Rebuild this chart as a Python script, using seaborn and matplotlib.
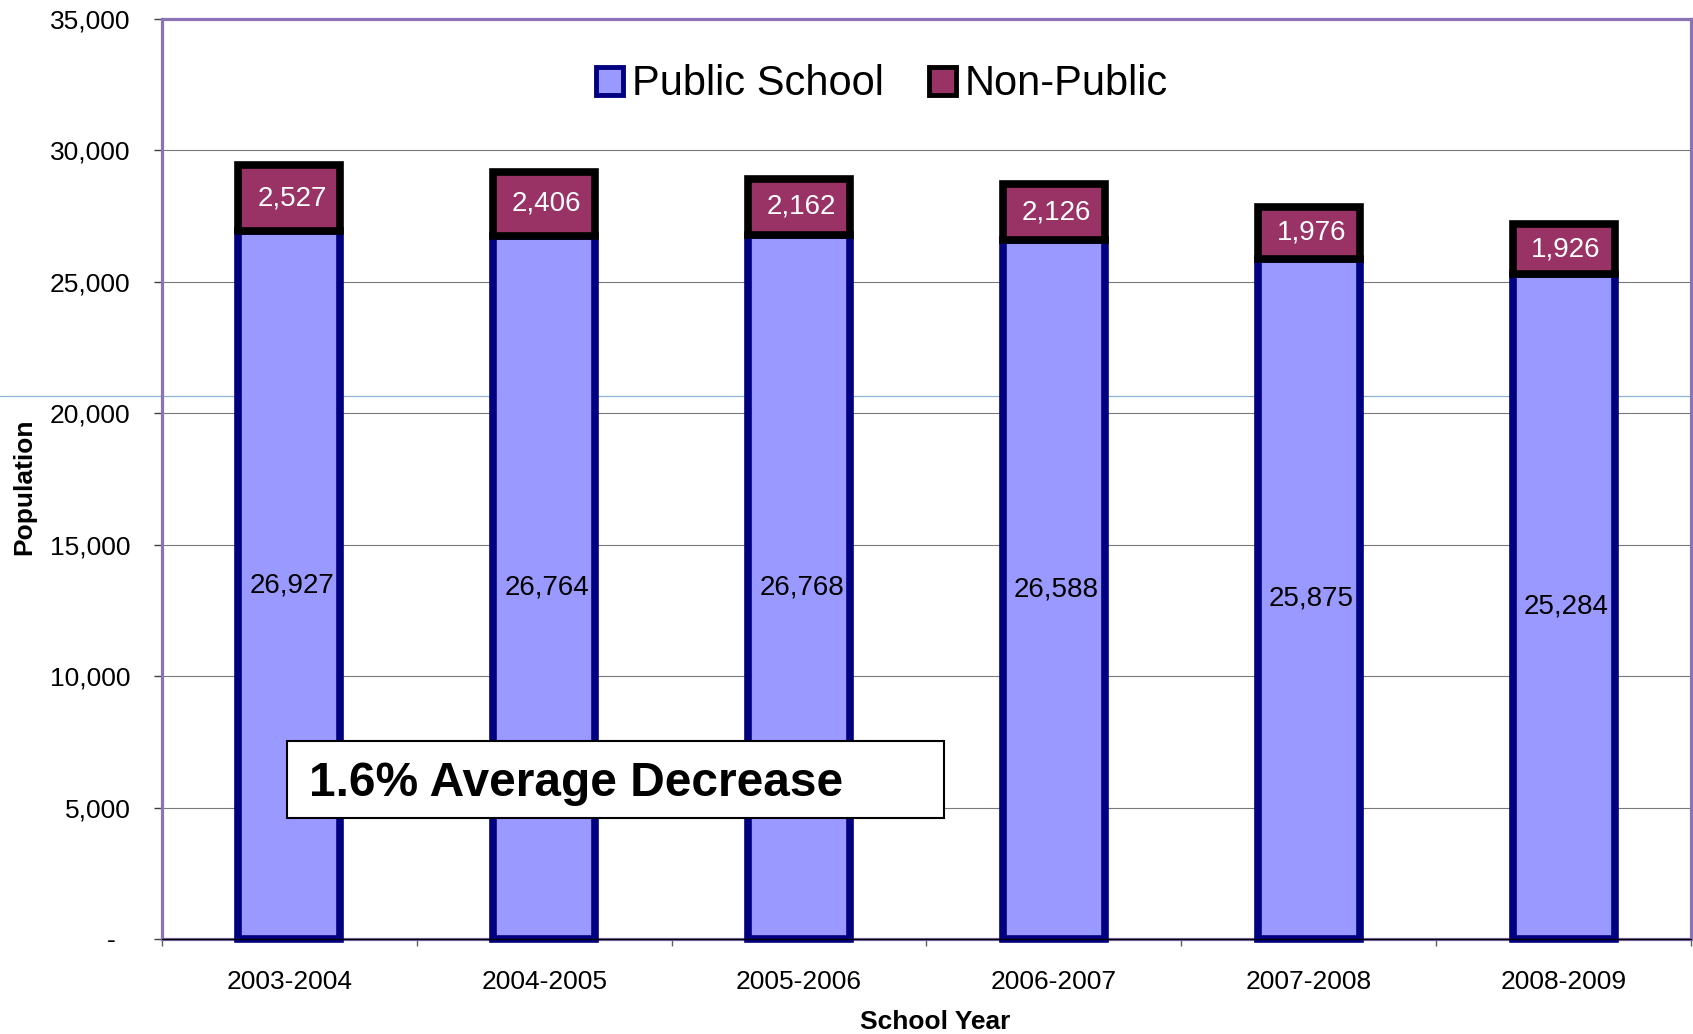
import matplotlib
matplotlib.use("Agg")
import matplotlib.pyplot as plt
import matplotlib.transforms as mtransforms
from matplotlib.patches import Patch, Rectangle
import seaborn as sns
import pandas as pd

# ---- data ----
years = ["2003-2004", "2004-2005", "2005-2006", "2006-2007", "2007-2008", "2008-2009"]
public = [26927, 26764, 26768, 26588, 25875, 25284]
non_public = [2527, 2406, 2162, 2126, 1976, 1926]
series_names = ["Public School", "Non-Public"]
y_ticks = [0, 5000, 10000, 15000, 20000, 25000, 30000, 35000]
y_tick_labels = ["-  ", "5,000", "10,000", "15,000", "20,000", "25,000", "30,000", "35,000"]
note_text = "1.6% Average Decrease"
x_title = "School Year"
y_title = "Population"
artifact_line_y = 20650

# ---- style ----
sns.set_theme(style="white")
plt.rcParams['font.family'] = ['Liberation Sans', 'DejaVu Sans']
plt.rcParams['text.color'] = 'black'
plt.rcParams['axes.labelcolor'] = 'black'
plt.rcParams['xtick.color'] = 'black'
plt.rcParams['ytick.color'] = 'black'

PUB_FACE = "#9999FF"
PUB_EDGE = "#000080"
NP_FACE = "#993366"
NP_EDGE = "#000000"
PURPLE = "#8A74B6"
BAR_W = 0.4
EDGE_LW = 5.5

fig = plt.figure(figsize=(16.93, 10.34), dpi=100)
ax = fig.add_axes([0.0957, 0.0919, 0.9031, 0.8897])

df = pd.DataFrame({"year": years, "public": public, "non_public": non_public})

sns.barplot(data=df, x="year", y="public", color=PUB_FACE, saturation=1,
            width=BAR_W, edgecolor=PUB_EDGE, linewidth=EDGE_LW, ax=ax, zorder=3)
ax.bar(range(len(years)), df["non_public"], bottom=df["public"], width=BAR_W,
       color=NP_FACE, edgecolor=NP_EDGE, linewidth=EDGE_LW, zorder=3)
for p in ax.patches:
    p.set_clip_on(False)

# value labels
for i, (p, n) in enumerate(zip(public, non_public)):
    ax.text(i + 0.01, p / 2, f"{p:,}", ha="center", va="center", fontsize=20,
            color="black", zorder=5)
    ax.text(i + 0.01, p + n / 2, f"{n:,}", ha="center", va="center", fontsize=20,
            color="white", zorder=5)

# faint blue artifact line across the figure
trans = mtransforms.blended_transform_factory(fig.transFigure, ax.transData)
ax.plot([0, 1], [artifact_line_y, artifact_line_y], transform=trans,
        color="#8DB4D6", lw=0.9, clip_on=False, zorder=1.5)

# axes
ax.set_xlim(-0.5, len(years) - 0.5)
ax.set_ylim(0, 35000)
ax.set_xlabel("")
ax.set_ylabel("")
ax.set_yticks(y_ticks)
ax.set_yticklabels(y_tick_labels)
ax.tick_params(axis="y", left=True, length=5.8, width=1, color="#404040",
               pad=17, labelsize=19, labelcolor="black")
ax.set_xticks(range(len(years)))
ax.set_xticklabels(years)
ax.set_xticks([i - 0.5 for i in range(len(years) + 1)], minor=True)
ax.tick_params(axis="x", which="major", length=0, pad=22, labelsize=19,
               labelcolor="black")
ax.tick_params(axis="x", which="minor", bottom=True, length=5, width=1,
               color="#606060")

ax.set_axisbelow(True)
ax.yaxis.grid(True, color="#7a7a7a", lw=0.8)
ax.xaxis.grid(False)
for s in ["left", "top", "right", "bottom"]:
    ax.spines[s].set_visible(True)
    ax.spines[s].set_color(PURPLE)
    ax.spines[s].set_linewidth(2.3)
ax.axhline(0, color="black", lw=1.0, zorder=4, clip_on=False)

# legend
handles = [Patch(facecolor=PUB_FACE, edgecolor=PUB_EDGE, linewidth=3.5),
           Patch(facecolor=NP_FACE, edgecolor=NP_EDGE, linewidth=3.5)]
leg = ax.legend(handles, series_names, loc="center", bbox_to_anchor=(0.471, 0.929),
                ncol=2, frameon=False, fontsize=30, handlelength=0.65,
                handleheight=0.65, handletextpad=0.2, columnspacing=1.1)
for t in leg.get_texts():
    t.set_color("black")

# note box
ax.add_patch(Rectangle((0.0818, 0.1315), 0.4296, 0.0837, transform=ax.transAxes,
                       facecolor="white", edgecolor="black", lw=1.5, zorder=6))
ax.text(0.0961, 0.1685, note_text, transform=ax.transAxes, fontsize=34.5,
        fontweight="bold", ha="left", va="center", color="black", zorder=7)

# axis titles
fig.text(935 / 1693, 1 - 1022 / 1034, x_title, ha="center", va="center",
         fontsize=19, fontweight="bold", color="black")
fig.text(24 / 1693, 1 - 487 / 1034, y_title, ha="center", va="center",
         fontsize=19, fontweight="bold", rotation=90, color="black")

fig.savefig("out.png", dpi=100)
